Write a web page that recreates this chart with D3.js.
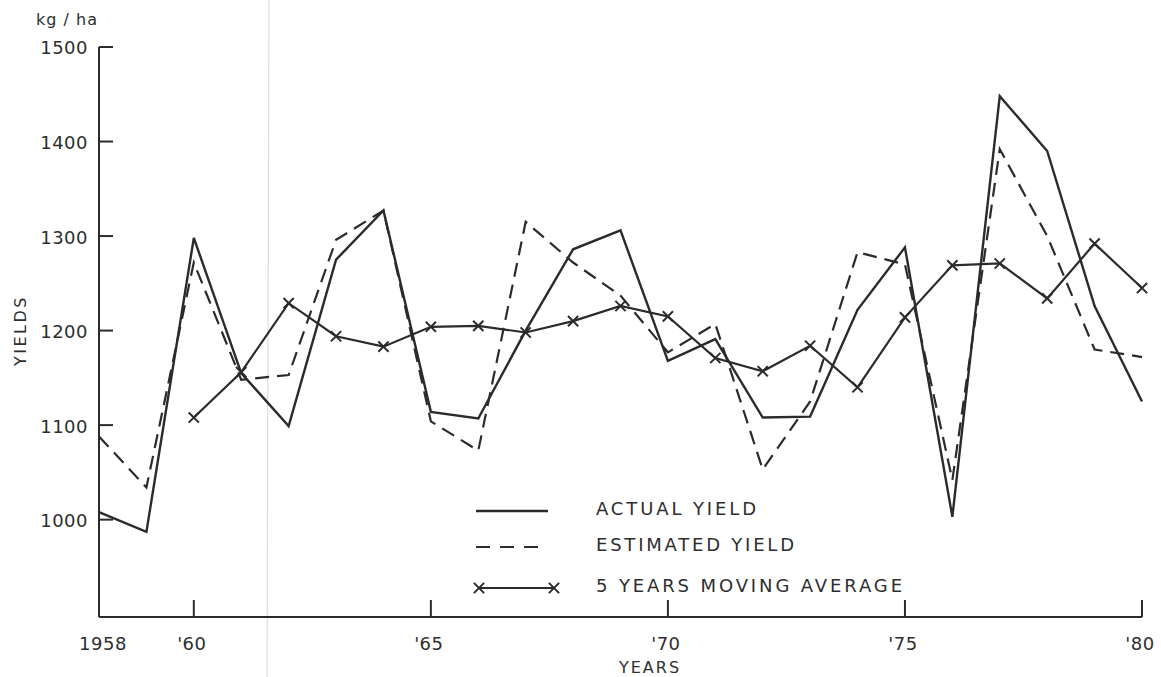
<!DOCTYPE html>
<html>
<head>
<meta charset="utf-8">
<script src="https://cdn.jsdelivr.net/npm/d3@7"></script>
<style>
  body { margin: 0; background: #fff; }
  text { font-family: "DejaVu Sans", sans-serif; fill: #2e2e2e; }
</style>
</head>
<body>
<script>
const width = 1161;
const height = 677;

// years 1958..1980
const years = d3.range(1958, 1981);

const actualYield = [1008, 987, 1298, 1155, 1099, 1275, 1327, 1114, 1107, 1200, 1286, 1306,
  1168, 1191, 1108, 1109, 1222, 1288, 1003, 1448, 1390, 1226, 1125];

const estimatedYield = [1088, 1034, 1272, 1148, 1153, 1296, 1327, 1104, 1073, 1315, 1272, 1237,
  1177, 1207, 1053, 1125, 1283, 1270, 1042, 1392, 1300, 1180, 1172];

// moving average starts at 1960
const avgYears = d3.range(1960, 1981);
const movingAverage = [1108, 1156, 1229, 1194, 1183, 1204, 1205, 1198, 1210, 1226,
  1215, 1171, 1157, 1184, 1140, 1214, 1269, 1271, 1234, 1292, 1245];

const yTicks = [1000, 1100, 1200, 1300, 1400, 1500];
const xTicks = [1958, 1960, 1965, 1970, 1975, 1980];
const xTickLabels = ["1958", "'60", "'65", "'70", "'75", "'80"];

const legendItems = ["ACTUAL YIELD", "ESTIMATED YIELD", "5 YEARS MOVING AVERAGE"];

const ink = "#2b2b2b";

const svg = d3.select("body").append("svg")
    .attr("width", width)
    .attr("height", height);

const x = d3.scaleLinear().domain([1958, 1980]).range([99, 1142]);
const y = d3.scaleLinear().domain([897, 1500]).range([617, 47]);

// faint scan line on the paper
svg.append("line")
    .attr("x1", 269).attr("x2", 267)
    .attr("y1", 0).attr("y2", height)
    .attr("stroke", "#d6d6d6")
    .attr("stroke-width", 1);

// axes
svg.append("line")
    .attr("x1", x(1958)).attr("x2", x(1958))
    .attr("y1", y(1500)).attr("y2", y(897))
    .attr("stroke", ink).attr("stroke-width", 2);
svg.append("line")
    .attr("x1", x(1958)).attr("x2", x(1980))
    .attr("y1", y(897)).attr("y2", y(897))
    .attr("stroke", ink).attr("stroke-width", 2);

svg.append("g").selectAll("line")
    .data(yTicks)
    .join("line")
    .attr("x1", x(1958)).attr("x2", x(1958) + 14)
    .attr("y1", d => y(d)).attr("y2", d => y(d))
    .attr("stroke", ink).attr("stroke-width", 2);

svg.append("g").selectAll("text")
    .data(yTicks)
    .join("text")
    .attr("x", 88)
    .attr("y", d => y(d) + 1)
    .attr("dy", "0.36em")
    .attr("text-anchor", "end")
    .style("font-size", "18px")
    .style("letter-spacing", "0.5px")
    .text(d => d);

svg.append("g").selectAll("line")
    .data(xTicks.slice(1))
    .join("line")
    .attr("x1", d => x(d)).attr("x2", d => x(d))
    .attr("y1", y(897)).attr("y2", y(897) - 17)
    .attr("stroke", ink).attr("stroke-width", 2);

svg.append("g").selectAll("text")
    .data(xTicks)
    .join("text")
    .attr("x", (d, i) => x(d) + (i === 0 ? 4 : -2))
    .attr("y", 650)
    .attr("text-anchor", "middle")
    .style("font-size", "18px")
    .style("letter-spacing", "0.5px")
    .text((d, i) => xTickLabels[i]);

svg.append("text")
    .attr("x", 36).attr("y", 25)
    .style("font-size", "16px")
    .style("letter-spacing", "1px")
    .text("kg / ha");

svg.append("text")
    .attr("x", 650).attr("y", 673)
    .attr("text-anchor", "middle")
    .style("font-size", "16px")
    .style("letter-spacing", "2px")
    .text("YEARS");

svg.append("text")
    .attr("transform", `translate(26, ${y(1200)}) rotate(-90)`)
    .attr("text-anchor", "middle")
    .style("font-size", "16px")
    .style("letter-spacing", "2.5px")
    .text("YIELDS");

// series
const line = d3.line().x(d => x(d[0])).y(d => y(d[1]));

svg.append("path")
    .datum(d3.zip(years, estimatedYield))
    .attr("d", line)
    .attr("fill", "none")
    .attr("stroke", ink)
    .attr("stroke-width", 2.2)
    .attr("stroke-dasharray", "14,8");

svg.append("path")
    .datum(d3.zip(years, actualYield))
    .attr("d", line)
    .attr("fill", "none")
    .attr("stroke", ink)
    .attr("stroke-width", 2.4);

const avgData = d3.zip(avgYears, movingAverage);
svg.append("path")
    .datum(avgData)
    .attr("d", line)
    .attr("fill", "none")
    .attr("stroke", ink)
    .attr("stroke-width", 2.2);

const cross = d3.symbol().type(d3.symbolX).size(70);
svg.append("g").selectAll("path")
    .data(avgData)
    .join("path")
    .attr("transform", d => `translate(${x(d[0])},${y(d[1])})`)
    .attr("d", cross)
    .attr("fill", "none")
    .attr("stroke", ink)
    .attr("stroke-width", 2);

// legend
const legendX = 476, legendW = 72;
const legendY = [511, 547, 588];
const legendTextW = [160, 198, 306];
const legend = svg.append("g");

legend.append("line")
    .attr("x1", legendX).attr("x2", legendX + legendW)
    .attr("y1", legendY[0]).attr("y2", legendY[0])
    .attr("stroke", ink).attr("stroke-width", 2.4);
legend.append("line")
    .attr("x1", legendX).attr("x2", legendX + legendW)
    .attr("y1", legendY[1]).attr("y2", legendY[1])
    .attr("stroke", ink).attr("stroke-width", 2.2)
    .attr("stroke-dasharray", "14,10");
legend.append("line")
    .attr("x1", legendX + 3).attr("x2", legendX + legendW + 6)
    .attr("y1", legendY[2]).attr("y2", legendY[2])
    .attr("stroke", ink).attr("stroke-width", 2.2);
legend.selectAll("path.mk")
    .data([legendX + 3, legendX + legendW + 6])
    .join("path")
    .attr("class", "mk")
    .attr("transform", d => `translate(${d},${legendY[2]})`)
    .attr("d", cross)
    .attr("fill", "none")
    .attr("stroke", ink)
    .attr("stroke-width", 2);

legend.selectAll("text")
    .data(legendItems)
    .join("text")
    .attr("x", 596)
    .attr("y", (d, i) => legendY[i] - 2)
    .attr("dy", "0.36em")
    .attr("textLength", (d, i) => legendTextW[i])
    .attr("lengthAdjust", "spacing")
    .style("font-size", "18px")
    .text(d => d);
</script>
</body>
</html>
